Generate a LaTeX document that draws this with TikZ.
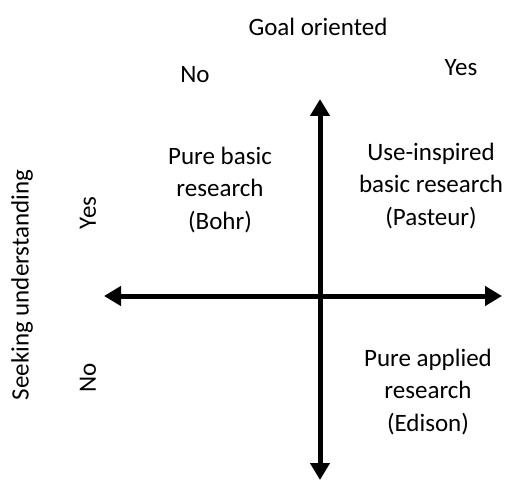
\documentclass[tikz,border=0pt]{standalone}
\usepackage{fontspec}
\setmainfont{Carlito}
\usetikzlibrary{arrows.meta}
\begin{document}
\begin{tikzpicture}[x=1bp,y=-1bp,
  lbl/.style={font=\fontsize{25bp}{32.5bp}\selectfont, align=center, inner sep=0pt},
  axis/.style={line width=5bp, {Triangle[length=17bp,width=19bp]}-{Triangle[length=17bp,width=19bp]}}]
\useasboundingbox (0,0) rectangle (519,481);
\coordinate (L) at (104,296);
\coordinate (R) at (502,296);
\coordinate (T) at (320,99);
\coordinate (B) at (320,480);
\draw[axis] (L) -- (R);
\draw[axis] (T) -- (B);
\node[lbl] (goal) at (318,27) {Goal oriented};
\node[lbl] (gno) at (195,75) {No};
\node[lbl] (gyes) at (461,68) {Yes};
\node[lbl] (bohr) at (220,190) {Pure basic\\research\\(Bohr)};
\node[lbl] (pasteur) at (431,186) {Use-inspired\\basic research\\(Pasteur)};
\node[lbl] (edison) at (428,392) {Pure applied\\research\\(Edison)};
\node[lbl, rotate=90] (seek) at (22,285) {Seeking understanding};
\node[lbl, rotate=90] (syes) at (88,213) {Yes};
\node[lbl, rotate=90] (sno) at (88,378) {No};
\end{tikzpicture}
\end{document}
